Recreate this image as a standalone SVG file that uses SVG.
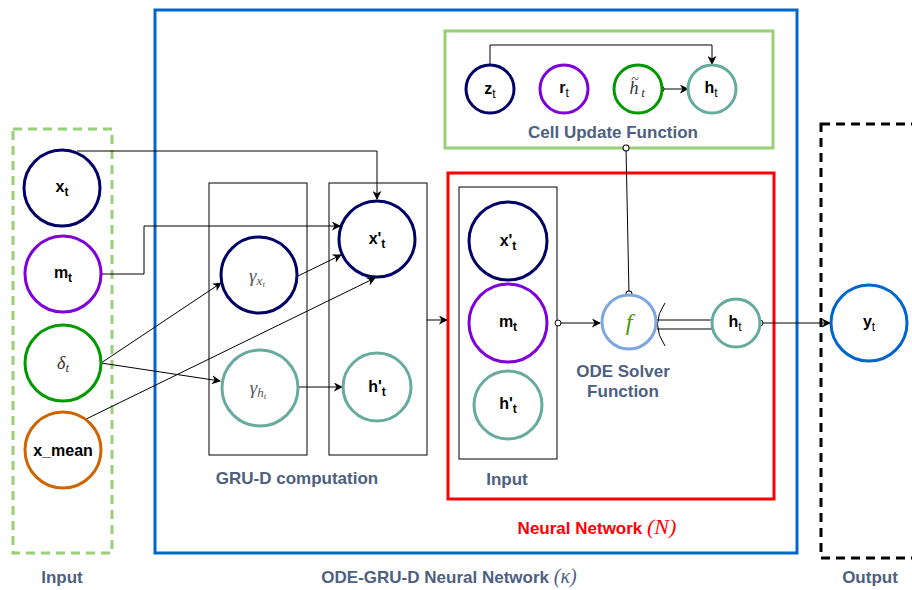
<svg xmlns="http://www.w3.org/2000/svg" width="912" height="590" viewBox="0 0 912 590">
<style>
.lbl{font-family:"Liberation Sans",Arial,sans-serif;font-size:16px;fill:#000;text-anchor:middle}
.sub{font-size:12px}
.cap{font-family:"Liberation Sans",Arial,sans-serif;font-size:17px;font-weight:bold;fill:#4D6080;text-anchor:middle}
.math{font-family:"Liberation Serif","DejaVu Serif",serif;font-style:italic;fill:#333;text-anchor:middle}
.node{fill:#fff;stroke-width:3}
.box{fill:none;stroke:#000;stroke-width:1}
.edge{fill:none;stroke:#000;stroke-width:1}
</style>
<defs>
<marker id="arr" viewBox="0 0 10 10" refX="9" refY="5" markerWidth="9" markerHeight="9" markerUnits="userSpaceOnUse" orient="auto">
<path d="M0,0 L10,5 L0,10 L3,5 z" fill="#000"/>
</marker>
<marker id="dot" viewBox="0 0 8 8" refX="4" refY="4" markerWidth="8" markerHeight="8" markerUnits="userSpaceOnUse" orient="auto">
<circle cx="4" cy="4" r="3" fill="#fff" stroke="#000" stroke-width="1"/>
</marker>
</defs>
<rect width="912" height="590" fill="#fff"/>

<!-- containers -->
<g id="input-box">
<rect x="13" y="129" width="99" height="424" fill="none" stroke="#97D077" stroke-width="3" stroke-dasharray="9,6"/>
<text class="cap" x="62" y="583">Input</text>
</g>
<g id="main-box">
<rect x="155" y="10" width="642" height="543" fill="none" stroke="#0066CC" stroke-width="3"/>
<text class="cap" x="449" y="583">ODE-GRU-D Neural Network <tspan class="math" font-size="20" font-weight="normal" style="fill:#4D6080">(κ)</tspan></text>
</g>
<g id="output-box">
<rect x="821" y="124" width="110" height="434" fill="none" stroke="#000" stroke-width="3" stroke-dasharray="9,6"/>
<text class="cap" x="870" y="583">Output</text>
</g>
<g id="grud-boxes">
<rect class="box" x="209" y="183" width="98" height="272"/>
<rect class="box" x="329" y="183" width="98" height="272"/>
<text class="cap" x="297" y="484">GRU-D computation</text>
</g>
<g id="nn-box">
<rect x="448" y="173" width="326" height="326" fill="none" stroke="#FF0000" stroke-width="3"/>
<rect class="box" x="459" y="187" width="98" height="272"/>
<text class="cap" x="507" y="485">Input</text>
<text class="cap" x="597" y="534" style="fill:#FF0000">Neural Network <tspan class="math" font-size="22" font-weight="normal" style="fill:#FF0000">(N)</tspan></text>
</g>
<g id="cell-box">
<rect x="445" y="31" width="328" height="117" fill="none" stroke="#97D077" stroke-width="3"/>
<text class="cap" x="613" y="138">Cell Update Function</text>
</g>

<!-- connectors -->
<g id="connectors">
<polyline class="edge" stroke="#333" points="77,151 377,151 377,199" marker-end="url(#arr)"/>
<polyline class="edge" stroke="#333" points="102,274 144,274 144,226 340,226" marker-end="url(#arr)"/>
<line class="edge" x1="101" y1="363" x2="221" y2="283" marker-end="url(#arr)"/>
<line class="edge" x1="101" y1="363" x2="220" y2="381" marker-end="url(#arr)"/>
<line class="edge" x1="80" y1="422" x2="375" y2="278" marker-end="url(#arr)"/>
<line class="edge" x1="298" y1="276" x2="341" y2="255" marker-end="url(#arr)"/>
<line class="edge" x1="298" y1="387" x2="342" y2="387" marker-end="url(#arr)"/>
<line class="edge" x1="427" y1="320" x2="447" y2="320" marker-end="url(#arr)"/>
<line class="edge" x1="558" y1="323" x2="600" y2="323" marker-start="url(#dot)" marker-end="url(#arr)"/>
<line class="edge" x1="629" y1="294" x2="626" y2="148" stroke="#888" marker-start="url(#dot)" marker-end="url(#dot)"/>
<path class="edge" d="M665,303 Q650,324 665,346"/>
<line class="edge" x1="657" y1="320" x2="712" y2="320"/>
<line class="edge" x1="657" y1="329" x2="712" y2="329"/>
<line class="edge" x1="760" y1="323" x2="830" y2="323" marker-start="url(#dot)" marker-end="url(#arr)"/>
<polyline class="edge" stroke="#333" points="490,65 490,45 712,45 712,64" marker-end="url(#arr)"/>
<line class="edge" x1="661" y1="89" x2="688" y2="89" marker-start="url(#dot)" marker-end="url(#arr)"/>
</g>

<!-- input nodes -->
<g id="xt"><circle class="node" cx="62" cy="188" r="38" stroke="#000066"/><text class="lbl" x="62" y="192" font-size="17" font-weight="bold">x<tspan class="sub" font-size="13" dy="4">t</tspan></text></g>
<g id="mt"><circle class="node" cx="63" cy="274" r="38" stroke="#7F00DD"/><text class="lbl" x="63" y="278" font-weight="bold">m<tspan class="sub" dy="4">t</tspan></text></g>
<g id="deltat"><circle class="node" cx="63" cy="363" r="38" stroke="#009900"/><text class="math" x="63" y="369" font-size="18">δ<tspan font-size="13" dy="3">t</tspan></text></g>
<g id="xmean"><circle class="node" cx="63" cy="450" r="38" stroke="#CC6600"/><text class="lbl" x="63" y="456" font-size="13" font-weight="bold">x_mean</text></g>

<!-- GRU-D nodes -->
<g id="gammax"><circle class="node" cx="259" cy="275" r="38" stroke="#000066"/><text class="math" x="257" y="282" font-size="19" style="fill:#555">γ<tspan font-size="13" dy="3">x</tspan><tspan font-size="9" dy="2">t</tspan></text></g>
<g id="gammah"><circle class="node" cx="260" cy="388" r="38" stroke="#67AB9F"/><text class="math" x="258" y="394" font-size="19" style="fill:#555">γ<tspan font-size="13" dy="3">h</tspan><tspan font-size="9" dy="2">t</tspan></text></g>
<g id="xprime"><circle class="node" cx="377" cy="239" r="38" stroke="#000066"/><text class="lbl" x="377" y="244" font-size="18" font-weight="bold">x'<tspan class="sub" font-size="13" dy="4">t</tspan></text></g>
<g id="hprime"><circle class="node" cx="377" cy="387" r="34" stroke="#67AB9F"/><text class="lbl" x="377" y="392" font-size="17" font-weight="bold">h'<tspan class="sub" font-size="13" dy="4">t</tspan></text></g>

<!-- NN nodes -->
<g id="nn-xprime"><circle class="node" cx="508" cy="241" r="39" stroke="#000066"/><text class="lbl" x="508" y="246" font-weight="bold">x'<tspan class="sub" font-size="13" dy="4">t</tspan></text></g>
<g id="nn-mt"><circle class="node" cx="508" cy="323" r="39" stroke="#7F00DD"/><text class="lbl" x="508" y="327" font-weight="bold">m<tspan class="sub" dy="4">t</tspan></text></g>
<g id="nn-hprime"><circle class="node" cx="508" cy="405" r="34" stroke="#67AB9F"/><text class="lbl" x="508" y="409" font-weight="bold">h'<tspan class="sub" dy="4">t</tspan></text></g>
<g id="f"><circle class="node" cx="629" cy="322" r="27" stroke="#7EA6E0" stroke-width="4"/><text class="math" x="629" y="330" font-size="24" style="fill:#4D9900">f</text>
<text class="cap" x="623" y="377">ODE Solver</text><text class="cap" x="623" y="397">Function</text></g>
<g id="nn-ht"><circle class="node" cx="736" cy="323" r="24" stroke="#67AB9F"/><text class="lbl" x="735" y="327" font-size="15" font-weight="bold">h<tspan class="sub" font-weight="normal" dy="4">t</tspan></text></g>

<!-- cell update nodes -->
<g id="zt"><circle class="node" cx="490" cy="89" r="24" stroke="#000066"/><text class="lbl" x="490" y="94" font-size="16" font-weight="bold">z<tspan class="sub" font-weight="normal" dy="4">t</tspan></text></g>
<g id="rt"><circle class="node" cx="564" cy="89" r="24" stroke="#7F00DD"/><text class="lbl" x="564" y="93" font-size="15" font-weight="bold">r<tspan class="sub" font-weight="normal" dy="4">t</tspan></text></g>
<g id="htilde"><circle class="node" cx="638" cy="89" r="24" stroke="#009900"/><text class="math" x="634" y="94" font-size="18">h<tspan x="635" dy="-10" font-size="14" font-style="normal">~</tspan><tspan x="643" dy="13" font-size="13">t</tspan></text></g>
<g id="ht"><circle class="node" cx="712" cy="89" r="24" stroke="#67AB9F"/><text class="lbl" x="711" y="93" font-size="15" font-weight="bold">h<tspan class="sub" font-weight="normal" dy="4">t</tspan></text></g>

<!-- output -->
<g id="yt"><circle class="node" cx="869" cy="323" r="38" stroke="#0066CC"/><text class="lbl" x="869" y="327" font-size="16" font-weight="bold">y<tspan class="sub" font-weight="normal" dy="4">t</tspan></text></g>
</svg>
